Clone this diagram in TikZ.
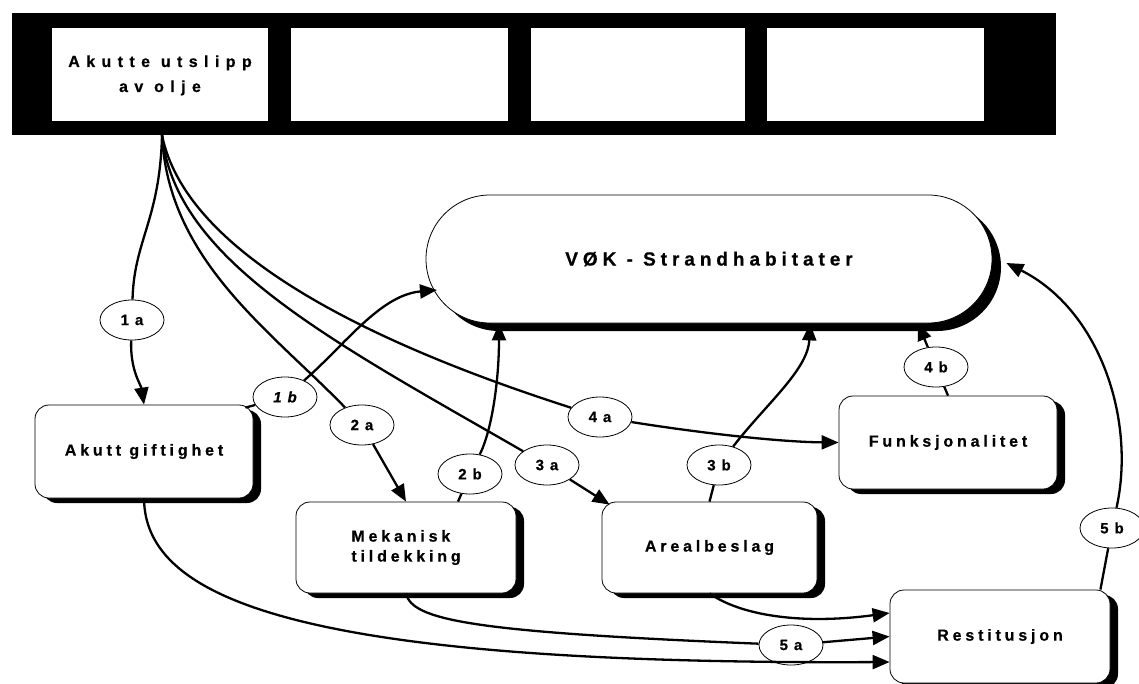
\documentclass[tikz,border=0pt]{standalone}
\usepackage{fontspec}
\setmainfont{Liberation Sans}
\newfontfamily\boxfnt{Liberation Sans}[UprightFont={* Bold},ItalicFont={* Bold Italic},LetterSpace=24,FakeBold=0.6]
\newfontfamily\topfnt{Liberation Sans}[UprightFont={* Bold},LetterSpace=40,FakeBold=0.6]
\newfontfamily\vokfnt{Liberation Sans}[UprightFont={* Bold},LetterSpace=26,FakeBold=0.6]
\newfontfamily\lblfnt{Liberation Sans}[UprightFont={* Bold},ItalicFont={* Bold Italic},LetterSpace=12,FakeBold=0.6]
\usetikzlibrary{shapes.geometric,arrows.meta,shadows,calc}
\begin{document}
\begin{tikzpicture}[x=1pt,y=-1pt,
  conn/.style={line width=2.3pt},
  arr/.style={conn,-{Triangle[length=17pt,width=14pt]}},
  shad/.style={drop shadow={shadow xshift=8pt,shadow yshift=-5pt,opacity=1,fill=black}},
  rbox/.style={draw,line width=0.8pt,fill=white,rounded corners=14pt,inner sep=0pt,
    align=center,font=\boxfnt\fontsize{16}{20}\selectfont,shad},
  topbox/.style={fill=white,inner sep=0pt,align=center,
    font=\topfnt\fontsize{16}{25}\selectfont},
  lbl/.style={draw,ellipse,line width=0.8pt,fill=white,minimum width=64pt,
    minimum height=40pt,inner sep=0pt,font=\lblfnt\fontsize{15}{16}\selectfont},
]
\useasboundingbox (0,0) rectangle (1139,684);

% top bar
\node[fill=black,minimum width=1044pt,minimum height=122pt,inner sep=0pt] (bar) at (534,74) {};
\node[topbox,minimum width=216pt,minimum height=93pt] (t1) at (160,74.5) {\raisebox{-4.5pt}{\begin{tabular}{@{}c@{}}Akutte utslipp\\av olje\end{tabular}}};
\node[topbox,minimum width=217pt,minimum height=93pt] (t2) at (399.5,74.5) {};
\node[topbox,minimum width=214pt,minimum height=93pt] (t3) at (638,74.5) {};
\node[topbox,minimum width=217pt,minimum height=93pt] (t4) at (875.5,74.5) {};
\coordinate (src) at (162,135);

% main ellipse
\node[draw,line width=0.8pt,fill=white,rounded corners=64pt,minimum width=566pt,
  minimum height=128pt,inner sep=0pt,
  drop shadow={shadow xshift=9pt,shadow yshift=-8pt,opacity=1,fill=black},
  font=\vokfnt\fontsize{19}{20}\selectfont] (vok) at (709,259) {VØK - Strandhabitater};

% boxes
\node[rbox,minimum width=218pt,minimum height=93pt] (giftig) at (144,451.5) {Akutt giftighet};
\node[rbox,minimum width=220pt,minimum height=91pt,align=left] (mek) at (406,547.5) {Mekanisk\\tildekking};
\node[rbox,minimum width=215pt,minimum height=91pt] (areal) at (709.5,547.5) {Arealbeslag};
\node[rbox,minimum width=218pt,minimum height=93pt] (funk) at (948,442.5) {Funksjonalitet};
\node[rbox,minimum width=220pt,minimum height=93pt] (rest) at (1000,636.5) {Restitusjon};

% labels
\node[lbl] (l1a) at (132,320) {1 a};
\node[lbl] (l1b) at (285,397) {\itshape 1 b};
\node[lbl] (l2a) at (362,425) {2 a};
\node[lbl] (l2b) at (470,474) {2 b};
\node[lbl] (l3a) at (547,465) {3 a};
\node[lbl] (l3b) at (719,465) {3 b};
\node[lbl] (l4a) at (600,417) {4 a};
\node[lbl] (l4b) at (936,367) {4 b};
\node[lbl] (l5a) at (791,645) {5 a};
\node[lbl] (l5b) at (1112,528) {5 b};

% connectors
\draw[conn] (src) .. controls (160,220) and (134,240) .. (l1a);
\draw[arr] (l1a) .. controls (130,370) and (141,385) .. (giftig.north);
\draw[conn] (l1b) -- ([xshift=-8pt,yshift=-3pt]giftig.north east);
\draw[arr] (l1b) .. controls (345,345) and (380,295) .. ($(vok.center)+(-272,31)$);
\draw[conn] (src) .. controls (168,260) and (270,330) .. (l2a);
\draw[arr] (l2a) -- (mek.north);
\draw[conn] ([xshift=52pt]mek.north) -- (l2b);
\draw[arr] (l2b) .. controls (492,430) and (499,380) .. ($(vok.south)+(-210,0)$);
\draw[conn] (src) .. controls (175,260) and (330,340) .. (l3a);
\draw[arr] (l3a) -- ([xshift=8pt,yshift=-3pt]areal.north west);
\draw[conn] (areal.north) -- (l3b);
\draw[arr] (l3b) .. controls (765,405) and (808,370) .. ($(vok.south)+(101,0)$);
\draw[conn] (src) .. controls (185,250) and (360,340) .. (l4a);
\draw[arr] (l4a) .. controls (700,433) and (780,442) .. (funk.west);
\draw[conn] (funk.north) -- (l4b);
\draw[arr] (l4b) -- ($(vok.south)+(209,0)$);
\draw[conn] ([xshift=-10pt]rest.north east) -- (l5b);
\draw[arr] (l5b) .. controls (1136,420) and (1100,310) .. ($(vok.east)+(14,4)$);
\draw[conn] (mek.south) .. controls (412,620) and (470,632) .. (l5a);
\draw[arr] (l5a) -- (rest.west);
\draw[arr] (areal.south) .. controls (740,615) and (800,625) .. ($(rest.west)+(0,-23.5)$);
\draw[arr] (giftig.south) .. controls (145,600) and (300,665) .. ($(rest.west)+(0,25.5)$);
\end{tikzpicture}
\end{document}
